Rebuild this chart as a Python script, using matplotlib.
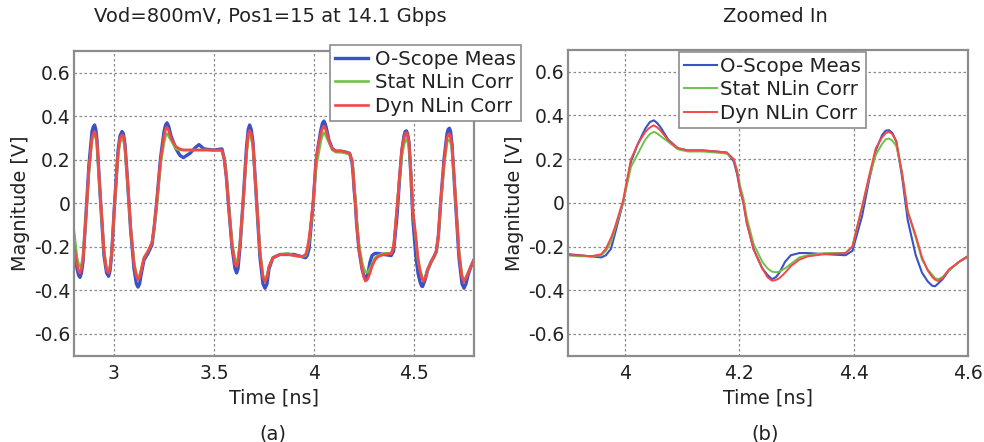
import matplotlib
matplotlib.use("Agg")
from matplotlib import pyplot as plt

# waveform samples, time in ns and magnitude in V (one line per stretch of the pattern)
time_ns = [2.800, 2.815, 2.823, 2.830, 2.837, 2.845, 2.860, 2.875, 2.890, 2.896, 2.903, 2.909, 2.915, 2.930,
           2.950, 2.963, 2.973, 2.980, 2.988, 3.003, 3.020, 3.030, 3.040, 3.047, 3.055, 3.065, 3.083,
           3.100, 3.112, 3.120, 3.128, 3.135, 3.150, 3.170, 3.190, 3.200, 3.213, 3.233, 3.250, 3.258, 3.265, 3.273, 3.285,
           3.310, 3.330, 3.347, 3.380, 3.405, 3.425, 3.450, 3.500, 3.540,
           3.552, 3.562, 3.572, 3.590, 3.605, 3.613, 3.620, 3.630, 3.645, 3.662, 3.671, 3.678, 3.686, 3.695, 3.712, 3.730, 3.745, 3.755, 3.765, 3.775, 3.795,
           3.830, 3.870, 3.900, 3.920, 3.940, 3.958, 3.966, 3.975, 3.982, 3.996, 4.010, 4.022, 4.035, 4.043, 4.050,
           4.056, 4.062, 4.075, 4.092, 4.110, 4.136, 4.160, 4.178, 4.190, 4.196, 4.201, 4.207, 4.213, 4.225, 4.240,
           4.249, 4.257, 4.264, 4.270, 4.280, 4.290, 4.305, 4.320, 4.350, 4.386, 4.398, 4.415, 4.427, 4.439, 4.450,
           4.456, 4.462, 4.468, 4.475, 4.485, 4.495, 4.509, 4.520, 4.530, 4.538, 4.543, 4.548, 4.556, 4.567, 4.585, 4.600,
           4.612, 4.622, 4.633, 4.650, 4.665, 4.671, 4.677, 4.683, 4.690, 4.705, 4.725, 4.740, 4.750, 4.760, 4.770, 4.785, 4.800]

scope_meas = [-0.20, -0.30, -0.33, -0.34, -0.32, -0.27, -0.05, 0.18, 0.33, 0.35, 0.36, 0.34, 0.29, 0.05,
              -0.24, -0.32, -0.335, -0.31, -0.24, 0.00, 0.24, 0.31, 0.33, 0.32, 0.27, 0.14, -0.12,
              -0.30, -0.37, -0.385, -0.37, -0.33, -0.26, -0.23, -0.19, -0.12, 0.00, 0.21, 0.33, 0.36, 0.37, 0.355, 0.31,
              0.25, 0.22, 0.21, 0.23, 0.255, 0.27, 0.25, 0.245, 0.25,
              0.20, 0.12, 0.00, -0.20, -0.30, -0.32, -0.30, -0.20, 0.00, 0.25, 0.34, 0.36, 0.34, 0.28, 0.02, -0.25, -0.37, -0.39, -0.37, -0.30, -0.25,
              -0.235, -0.235, -0.235, -0.24, -0.245, -0.25, -0.24, -0.21, -0.14, 0.00, 0.19, 0.27, 0.34, 0.37, 0.378,
              0.365, 0.345, 0.29, 0.25, 0.24, 0.24, 0.235, 0.23, 0.19, 0.13, 0.06, 0.00, -0.093, -0.214, -0.30,
              -0.33, -0.35, -0.34, -0.32, -0.27, -0.24, -0.23, -0.23, -0.235, -0.24, -0.22, -0.06, 0.10, 0.24, 0.31,
              0.33, 0.333, 0.32, 0.28, 0.12, -0.08, -0.24, -0.32, -0.36, -0.38, -0.382, -0.37, -0.35, -0.31, -0.27, -0.245,
              -0.22, -0.15, 0.00, 0.20, 0.32, 0.34, 0.345, 0.33, 0.27, 0.05, -0.25, -0.37, -0.39, -0.37, -0.33, -0.29, -0.26]

stat_corr = [-0.13, -0.25, -0.28, -0.29, -0.28, -0.25, -0.06, 0.15, 0.29, 0.31, 0.32, 0.30, 0.27, 0.05,
             -0.22, -0.30, -0.31, -0.29, -0.23, -0.01, 0.22, 0.28, 0.30, 0.295, 0.25, 0.13, -0.11,
             -0.27, -0.325, -0.34, -0.33, -0.31, -0.25, -0.22, -0.18, -0.12, -0.02, 0.18, 0.28, 0.31, 0.32, 0.31, 0.29,
             0.25, 0.245, 0.245, 0.245, 0.245, 0.245, 0.245, 0.245, 0.24,
             0.20, 0.13, 0.01, -0.18, -0.26, -0.27, -0.25, -0.18, -0.01, 0.22, 0.30, 0.31, 0.30, 0.26, 0.03, -0.22, -0.33, -0.35, -0.33, -0.29, -0.25,
             -0.235, -0.23, -0.24, -0.245, -0.245, -0.24, -0.22, -0.18, -0.12, 0.00, 0.165, 0.225, 0.29, 0.315, 0.325,
             0.318, 0.305, 0.28, 0.245, 0.235, 0.235, 0.23, 0.225, 0.20, 0.15, 0.08, 0.02, -0.07, -0.19, -0.27,
             -0.30, -0.315, -0.318, -0.315, -0.30, -0.28, -0.25, -0.24, -0.23, -0.23, -0.20, -0.02, 0.11, 0.22, 0.27,
             0.29, 0.295, 0.285, 0.26, 0.14, -0.04, -0.16, -0.26, -0.305, -0.33, -0.345, -0.35, -0.34, -0.31, -0.27, -0.25,
             -0.22, -0.15, -0.01, 0.17, 0.28, 0.29, 0.29, 0.28, 0.25, 0.06, -0.22, -0.33, -0.35, -0.34, -0.32, -0.29, -0.26]

dyn_corr = [-0.19, -0.28, -0.31, -0.32, -0.30, -0.26, -0.06, 0.16, 0.30, 0.32, 0.33, 0.315, 0.28, 0.06,
            -0.22, -0.31, -0.32, -0.295, -0.23, 0.00, 0.23, 0.30, 0.315, 0.31, 0.26, 0.14, -0.11,
            -0.28, -0.335, -0.35, -0.34, -0.31, -0.25, -0.22, -0.18, -0.11, 0.00, 0.20, 0.31, 0.34, 0.35, 0.335, 0.30,
            0.26, 0.25, 0.245, 0.245, 0.245, 0.245, 0.245, 0.245, 0.245,
            0.20, 0.12, 0.00, -0.19, -0.28, -0.29, -0.27, -0.19, 0.00, 0.23, 0.32, 0.335, 0.32, 0.27, 0.03, -0.23, -0.34, -0.36, -0.34, -0.29, -0.25,
            -0.235, -0.235, -0.24, -0.24, -0.245, -0.235, -0.21, -0.16, -0.11, 0.01, 0.20, 0.27, 0.325, 0.345, 0.355,
            0.345, 0.33, 0.287, 0.25, 0.24, 0.24, 0.235, 0.23, 0.20, 0.14, 0.06, 0.00, -0.093, -0.214, -0.30,
            -0.34, -0.357, -0.353, -0.345, -0.32, -0.29, -0.26, -0.245, -0.235, -0.23, -0.20, -0.017, 0.12, 0.25, 0.30,
            0.318, 0.325, 0.315, 0.28, 0.135, -0.04, -0.15, -0.25, -0.31, -0.34, -0.352, -0.358, -0.345, -0.305, -0.27, -0.245,
            -0.22, -0.14, 0.00, 0.19, 0.30, 0.315, 0.32, 0.305, 0.27, 0.06, -0.23, -0.34, -0.36, -0.345, -0.32, -0.29, -0.26]

series_labels = ["O-Scope Meas", "Stat NLin Corr", "Dyn NLin Corr"]
series_colors = ["#3a52c6", "#6cc24a", "#f44848"]

y_ticks = [-0.6, -0.4, -0.2, 0, 0.2, 0.4, 0.6]
y_tick_labels = ["-0.6", "-0.4", "-0.2", "0", "0.2", "0.4", "0.6"]
left_x_ticks = [3, 3.5, 4, 4.5]
left_x_labels = ["3", "3.5", "4", "4.5"]
right_x_ticks = [4, 4.2, 4.4, 4.6]
right_x_labels = ["4", "4.2", "4.4", "4.6"]

plt.rcParams["font.family"] = "DejaVu Sans"
plt.rcParams["font.size"] = 13.8
text_color = "#222222"
frame_color = "#8c8c8c"

fig = plt.figure(figsize=(9.84, 4.42), dpi=100)
ax_full = fig.add_axes([0.0752, 0.1953, 0.4065, 0.6893])
ax_zoom = fig.add_axes([0.5775, 0.1953, 0.4059, 0.6916])


def draw_panel(ax, xlim, xticks, xlabels, widths):
    for v, lab, col, lw in zip([scope_meas, stat_corr, dyn_corr], series_labels, series_colors, widths):
        ax.plot(time_ns, v, color=col, lw=lw, label=lab)
    ax.set_xlim(xlim)
    ax.set_ylim(-0.7, 0.7)
    ax.set_xticks(xticks)
    ax.set_xticklabels(xlabels)
    ax.set_yticks(y_ticks)
    ax.set_yticklabels(y_tick_labels)
    ax.grid(True, color="#8a8a8a", linestyle=(0, (2, 2)), lw=0.9)
    ax.tick_params(length=0, colors=text_color, labelsize=13.5)
    ax.tick_params(axis="x", pad=6)
    ax.tick_params(axis="y", pad=2.5)
    for s in ax.spines.values():
        s.set_color(frame_color)
        s.set_linewidth(1.6)
    ax.set_xlabel("Time [ns]", color=text_color, labelpad=4)
    ax.set_ylabel("Magnitude [V]", color=text_color, labelpad=3)


draw_panel(ax_full, (2.8, 4.8), left_x_ticks, left_x_labels, [2.4, 1.9, 1.9])
draw_panel(ax_zoom, (3.9, 4.6), right_x_ticks, right_x_labels, [1.5, 1.4, 1.4])

leg_kw = dict(loc="upper left", fontsize=14.2, fancybox=False, framealpha=1,
              edgecolor=frame_color, borderpad=0.25, labelspacing=0.22,
              handlelength=1.7, borderaxespad=0)
leg1 = ax_full.legend(bbox_to_anchor=(330 / 984, 1 - 45 / 442),
                      bbox_transform=fig.transFigure, handletextpad=0.35, **leg_kw)
leg2 = ax_zoom.legend(bbox_to_anchor=(679 / 984, 1 - 52 / 442),
                      bbox_transform=fig.transFigure, handletextpad=0.15, **leg_kw)
for leg in (leg1, leg2):
    leg.get_frame().set_linewidth(1.2)
    leg.set_zorder(5)
    for t in leg.get_texts():
        t.set_color(text_color)

fig.text(270 / 984, 1 - 17 / 442, "Vod=800mV, Pos1=15 at 14.1 Gbps", ha="center", va="center",
         fontsize=14, color=text_color)
fig.text(775 / 984, 1 - 17 / 442, "Zoomed In", ha="center", va="center",
         fontsize=14, color=text_color)
fig.text(273 / 984, 1 - 434 / 442, "(a)", ha="center", va="center", fontsize=14, color=text_color)
fig.text(765 / 984, 1 - 434 / 442, "(b)", ha="center", va="center", fontsize=14, color=text_color)

fig.savefig("out.png", dpi=100)
